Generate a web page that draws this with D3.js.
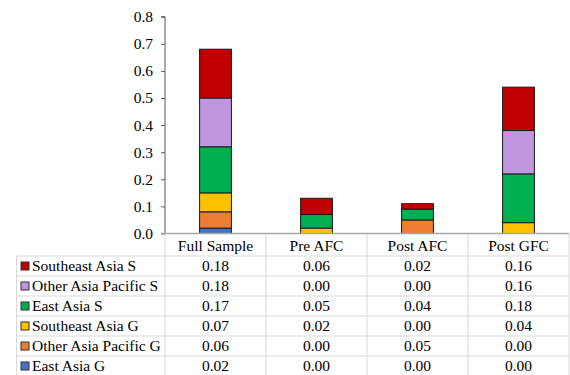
<!DOCTYPE html>
<html>
<head>
<meta charset="utf-8">
<script src="https://cdn.jsdelivr.net/npm/d3@7"></script>
<style>
  html, body { margin: 0; padding: 0; background: #fff; }
  svg { display: block; }
</style>
</head>
<body>
<svg id="chart" width="570" height="375"></svg>
<script>
// Periods along the x axis
const periods = ["Full Sample", "Pre AFC", "Post AFC", "Post GFC"];

// Series, listed top row of the table first (top of the stack)
const seriesNames = ["Southeast Asia S", "Other Asia Pacific S", "East Asia S",
                     "Southeast Asia G", "Other Asia Pacific G", "East Asia G"];
const southeastAsiaS     = [0.18, 0.06, 0.02, 0.16];
const otherAsiaPacificS  = [0.18, 0.00, 0.00, 0.16];
const eastAsiaS          = [0.17, 0.05, 0.04, 0.18];
const southeastAsiaG     = [0.07, 0.02, 0.00, 0.04];
const otherAsiaPacificG  = [0.06, 0.00, 0.05, 0.00];
const eastAsiaG          = [0.02, 0.00, 0.00, 0.00];
const seriesColors = ["#C00000", "#C096DE", "#00B050", "#FFC000", "#ED7D31", "#4472C4"];

const yTicks = [0, 0.1, 0.2, 0.3, 0.4, 0.5, 0.6, 0.7, 0.8];

const seriesValues = [southeastAsiaS, otherAsiaPacificS, eastAsiaS,
                      southeastAsiaG, otherAsiaPacificG, eastAsiaG];

// Table of rows for d3.stack
const rows = periods.map((p, i) => {
  const r = { period: p };
  seriesNames.forEach((s, k) => { r[s] = seriesValues[k][i]; });
  return r;
});

const FONT_FAMILY = "'Liberation Serif', 'Times New Roman', 'DejaVu Serif', serif";
const FONT = "15.5px";

const svg = d3.select("#chart")
  .attr("font-family", FONT_FAMILY)
  .attr("font-size", FONT);

const plotLeft = 165, plotRight = 569;
const x = d3.scaleBand().domain(periods).range([plotLeft, plotRight]).padding(0);
const y = d3.scaleLinear().domain([0, 0.8]).range([233.5, 16.7]);
const barW = x.bandwidth() * 0.315;

// stack bottom-up: East Asia G first
const stackKeys = seriesNames.slice().reverse();
const stacked = d3.stack().keys(stackKeys)(rows);
const colorOf = d3.scaleOrdinal().domain(seriesNames).range(seriesColors);

const barsG = svg.append("g");
stacked.forEach(layer => {
  barsG.selectAll(null)
    .data(layer.filter(d => d[1] - d[0] > 0))
    .join("rect")
    .attr("x", d => x(d.data.period) + x.bandwidth() / 2 - barW / 2)
    .attr("width", barW)
    .attr("y", d => y(d[1]))
    .attr("height", d => y(d[0]) - y(d[1]))
    .attr("fill", colorOf(layer.key))
    .attr("stroke", "#1a1a1a")
    .attr("stroke-width", 1);
});

// y axis
const yAxis = d3.axisLeft(y).tickValues(yTicks).tickFormat(d3.format(".1f"))
  .tickSize(4).tickPadding(8);
const yg = svg.append("g").attr("transform", `translate(${plotLeft},0)`).call(yAxis)
  .attr("font-family", FONT_FAMILY).attr("font-size", FONT);
yg.select(".domain").attr("stroke", "#595959").attr("d", `M-4,${y(0.8)}H0V${y(0)}`);
yg.selectAll(".tick line").attr("stroke", "#595959");
yg.selectAll(".tick text").attr("fill", "#000");

// data table beneath the axis
const headTop = 234, headBot = 256, rowH = 20;
const tableLeft = 16.5;
const grid = svg.append("g").attr("stroke", "#d9d9d9").attr("stroke-width", 1).attr("fill", "none");

// horizontal lines
for (let k = 0; k <= seriesNames.length; k++) {
  const yy = headBot + k * rowH;
  grid.append("line").attr("x1", tableLeft).attr("x2", plotRight).attr("y1", yy).attr("y2", yy);
}
// vertical lines
const colEdges = periods.map(p => x(p)).concat([plotRight]);
colEdges.forEach(cx => {
  grid.append("line").attr("x1", cx).attr("x2", cx)
    .attr("y1", headTop).attr("y2", headBot + seriesNames.length * rowH);
});
grid.append("line").attr("x1", tableLeft).attr("x2", tableLeft)
  .attr("y1", headBot).attr("y2", headBot + seriesNames.length * rowH);

// baseline of the plot (category axis)
svg.append("line").attr("x1", plotLeft - 4).attr("x2", plotRight)
  .attr("y1", y(0)).attr("y2", y(0))
  .attr("stroke", "#a6a6a6").attr("stroke-width", 1.5);

// column headers
svg.append("g").selectAll("text").data(periods).join("text")
  .attr("x", d => x(d) + x.bandwidth() / 2)
  .attr("y", 250.5)
  .attr("text-anchor", "middle")
  .text(d => d);

// rows
seriesNames.forEach((name, k) => {
  const top = headBot + k * rowH;
  svg.append("rect")
    .attr("x", 21).attr("y", top + 6).attr("width", 8).attr("height", 8)
    .attr("fill", seriesColors[k]).attr("stroke", "#333").attr("stroke-width", 1);
  svg.append("text")
    .attr("x", 32).attr("y", top + 15)
    .text(name);
  svg.append("g").selectAll("text").data(seriesValues[k]).join("text")
    .attr("x", (d, i) => x(periods[i]) + x.bandwidth() / 2)
    .attr("y", top + 15)
    .attr("text-anchor", "middle")
    .text(d => d3.format(".2f")(d));
});
</script>
</body>
</html>
